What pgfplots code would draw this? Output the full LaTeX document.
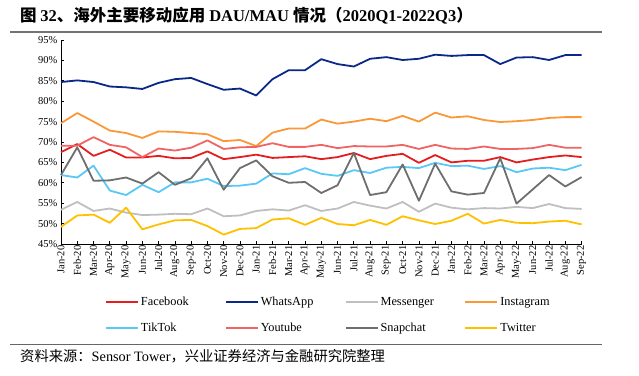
\documentclass[border=0pt]{standalone}
\usepackage{pgfplots}
\usepackage{pgfplotstable}
\pgfplotsset{compat=1.18}
\usepackage{fontspec}
\setmainfont{Liberation Serif}
\newfontfamily\cjk{Noto Sans CJK SC}

\definecolor{cFacebook}{RGB}{228,30,30}
\definecolor{cWhatsApp}{RGB}{10,40,135}
\definecolor{cMessenger}{RGB}{191,191,191}
\definecolor{cInstagram}{RGB}{250,152,55}
\definecolor{cTikTok}{RGB}{90,200,245}
\definecolor{cYoutube}{RGB}{240,100,100}
\definecolor{cSnapchat}{RGB}{110,110,110}
\definecolor{cTwitter}{RGB}{255,192,0}

\pgfplotstableread{
x F W M I T Y S Tw
0 67.5 84.7 53.4 74.6 61.9 69.1 61.9 49.2
1 69.5 85.1 55.3 77.1 61.3 69.1 68.7 52.0
2 66.6 84.7 53.1 75.0 64.2 71.2 60.5 52.2
3 68.1 83.6 53.7 72.8 58.1 69.3 60.6 50.2
4 66.2 83.4 52.7 72.2 57.0 68.7 61.3 53.9
5 66.2 83.0 52.1 71.0 59.5 66.3 59.8 48.6
6 66.6 84.5 52.2 72.6 57.7 68.4 62.6 49.8
7 66.0 85.4 52.4 72.5 60.1 67.9 59.5 50.8
8 66.1 85.7 52.3 72.2 60.1 68.6 61.1 50.9
9 67.7 84.2 53.7 71.9 61.0 70.4 66.0 49.4
10 65.8 82.8 51.8 70.2 59.2 68.3 58.3 47.3
11 66.3 83.1 52.0 70.5 59.3 68.7 63.6 48.7
12 66.9 81.4 53.1 69.0 59.8 68.8 65.5 48.9
13 66.1 85.4 53.5 72.3 62.3 69.7 61.6 51.0
14 66.3 87.6 53.2 73.3 62.1 68.8 60.0 51.3
15 66.5 87.6 54.5 73.3 63.6 68.8 60.2 49.7
16 65.8 90.3 53.1 75.5 62.2 69.3 57.5 51.4
17 66.3 89.1 53.7 74.5 61.7 68.5 59.4 49.9
18 67.3 88.5 55.3 75.0 63.1 69.0 67.3 49.6
19 65.8 90.4 54.4 75.7 62.4 68.9 57.0 50.9
20 66.6 90.8 53.7 75.1 63.7 68.9 57.7 49.7
21 67.1 90.1 55.3 76.4 63.9 69.3 64.5 51.8
22 64.9 90.4 52.9 75.0 63.6 68.3 55.6 50.8
23 66.8 91.4 54.9 77.2 64.9 69.3 64.7 49.9
24 65.0 91.1 53.9 76.0 64.1 68.4 57.9 50.7
25 65.4 91.3 53.5 76.3 64.2 68.3 57.1 52.4
26 65.4 91.3 53.8 75.4 63.4 68.9 57.5 50.0
27 66.3 89.1 53.7 74.9 64.1 68.3 66.0 50.9
28 65.0 90.7 54.1 75.1 62.6 68.3 54.9 50.2
29 65.7 90.8 53.8 75.4 63.5 68.5 58.4 50.1
30 66.3 90.1 54.8 75.9 63.7 69.3 61.9 50.5
31 66.7 91.3 53.8 76.1 63.1 68.6 59.1 50.7
32 66.3 91.3 53.6 76.1 64.4 68.6 61.4 49.8
}\datatable

\begin{document}
\begin{tikzpicture}
\path[use as bounding box] (0pt,0pt) rectangle (639pt,375pt);
% title
\node[anchor=west, inner sep=0pt, font=\fontsize{16.5}{18}\selectfont] at (20pt,359pt)
 {{\cjk\bfseries 图 }\textbf{32}{\cjk\bfseries 、海外主要移动应用 }\textbf{DAU/MAU} {\cjk\bfseries 情况（}\textbf{2020Q1-2022Q3}{\cjk\bfseries ）}};
\draw[black!55, line width=1.4pt] (10pt,343pt) -- (602pt,343pt);
% source
\draw[black!60, line width=0.8pt] (10pt,31pt) -- (602pt,31pt);
\node[anchor=west, inner sep=0pt, font=\fontsize{14.3}{16}\selectfont] at (20pt,19pt)
 {{\cjk 资料来源：}Sensor Tower{\cjk ，兴业证券经济与金融研究院整理}};

\begin{axis}[
  at={(61pt,131pt)}, anchor=south west,
  scale only axis, width=520.6pt, height=204pt,
  xmin=0, xmax=32, ymin=45, ymax=95,
  axis x line*=bottom, axis y line*=left,
  axis line style={-, black, line width=0.9pt},
  tick align=inside, major tick length=3pt,
  tick style={black, line width=0.7pt},
  xtick={0,...,32},
  xticklabels={Jan-20,Feb-20,Mar-20,Apr-20,May-20,Jun-20,Jul-20,Aug-20,Sep-20,Oct-20,Nov-20,Dec-20,Jan-21,Feb-21,Mar-21,Apr-21,May-21,Jun-21,Jul-21,Aug-21,Sep-21,Oct-21,Nov-21,Dec-21,Jan-22,Feb-22,Mar-22,Apr-22,May-22,Jun-22,Jul-22,Aug-22,Sep-22},
  xticklabel style={rotate=90, anchor=east, font=\fontsize{10.5}{12}\selectfont, inner sep=1.5pt},
  ytick={45,50,...,95},
  yticklabels={45\%,50\%,55\%,60\%,65\%,70\%,75\%,80\%,85\%,90\%,95\%},
  yticklabel style={font=\fontsize{10.5}{12}\selectfont},
  every axis plot/.append style={line width=1.8pt, line join=round, no marks},
  legend columns=4,
  legend image code/.code={\draw[#1] (0pt,0pt) -- (32pt,0pt);},
  legend style={draw=none, fill=none, at={(0.0845,-0.25)}, anchor=north west,
     font=\fontsize{12.3}{14}\selectfont, row sep=12pt, inner sep=0pt,
     nodes={inner sep=2pt, text width=80pt, align=left},
     /tikz/every even column/.append style={column sep=2pt}},
  clip=false,
]
\addplot[cFacebook] table[x=x,y=F]{\datatable};
\addlegendentry{Facebook}
\addplot[cWhatsApp] table[x=x,y=W]{\datatable};
\addlegendentry{WhatsApp}
\addplot[cMessenger] table[x=x,y=M]{\datatable};
\addlegendentry{Messenger}
\addplot[cInstagram] table[x=x,y=I]{\datatable};
\addlegendentry{Instagram}
\addplot[cTikTok] table[x=x,y=T]{\datatable};
\addlegendentry{TikTok}
\addplot[cYoutube] table[x=x,y=Y]{\datatable};
\addlegendentry{Youtube}
\addplot[cSnapchat] table[x=x,y=S]{\datatable};
\addlegendentry{Snapchat}
\addplot[cTwitter] table[x=x,y=Tw]{\datatable};
\addlegendentry{Twitter}
\end{axis}
\end{tikzpicture}
\end{document}
